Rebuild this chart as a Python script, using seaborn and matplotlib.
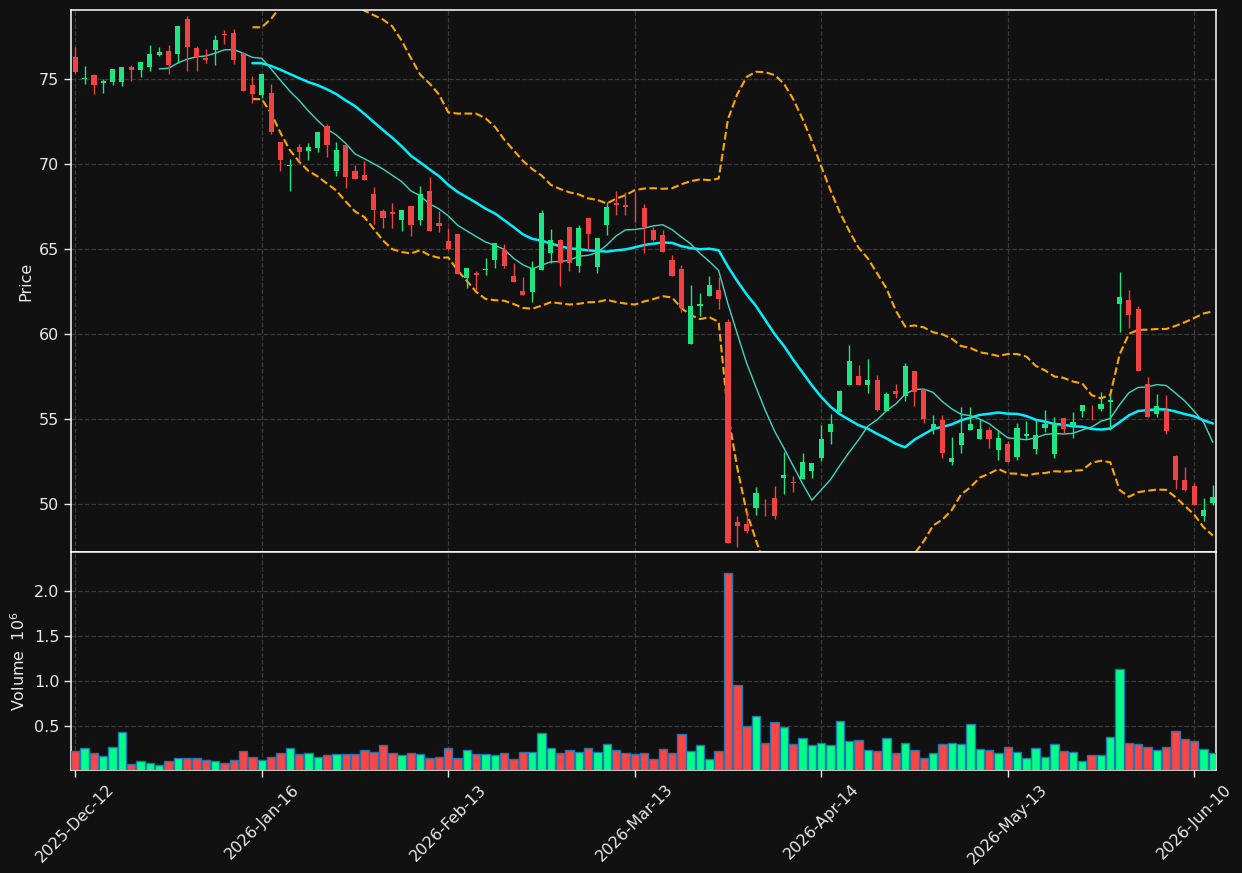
import numpy as np
import pandas as pd
import matplotlib
matplotlib.use("Agg")
from matplotlib import pyplot as plt
from matplotlib.ticker import MultipleLocator, FormatStrFormatter
import seaborn as sns

# OHLC values (one entry per trading session)
opens = [76.31, 75.00, 75.25, 74.74, 74.80, 74.80, 75.68, 75.55, 75.68, 76.43,
         76.66, 76.49, 78.55, 76.84, 76.23, 76.72, 77.63, 77.72, 76.53, 74.66,
         74.09, 74.19, 71.31, 69.88, 71.00, 70.78, 70.96, 72.25, 69.57, 71.13,
         69.61, 69.37, 68.26, 67.25, 67.19, 66.68, 67.55, 66.68, 68.43, 66.55,
         65.50, 65.90, 63.28, 63.57, 63.74, 64.33, 64.96, 63.43, 62.53, 62.45,
         63.74, 64.74, 65.55, 66.31, 63.98, 66.82, 63.92, 66.39, 67.72, 67.59,
         67.41, 67.43, 66.14, 65.84, 64.37, 63.84, 59.43, 61.63, 62.21, 62.61,
         60.72, 48.92, 48.84, 49.74, 49.78, 50.35, 51.51, 51.29, 51.47, 51.92,
         52.68, 54.21, 55.43, 56.98, 57.54, 57.03, 57.31, 55.45, 56.66, 56.33,
         57.84, 56.76, 54.41, 54.96, 52.50, 53.50, 54.37, 53.84, 54.37, 53.19,
         53.54, 52.75, 53.98, 53.25, 54.47, 52.96, 55.06, 54.62, 55.45, 55.61,
         55.61, 55.98, 61.74, 62.02, 61.49, 57.08, 55.29, 55.49, 52.80, 51.43,
         51.08, 49.31, 50.06]
highs = [76.88, 75.74, 75.30, 75.00, 75.61, 75.72, 75.84, 76.02, 77.02, 76.88,
         77.02, 78.14, 78.72, 76.96, 76.76, 77.59, 77.90, 77.94, 76.53, 75.19,
         75.31, 74.72, 71.31, 70.31, 71.17, 71.23, 71.90, 72.37, 71.29, 71.13,
         69.94, 70.19, 68.65, 67.37, 67.70, 67.31, 67.55, 68.72, 69.23, 67.21,
         66.22, 65.90, 63.90, 63.73, 64.47, 65.35, 65.27, 64.16, 63.35, 64.29,
         67.31, 66.18, 65.59, 66.31, 66.39, 66.82, 65.65, 67.74, 68.41, 68.37,
         68.37, 67.63, 66.29, 66.10, 64.65, 64.08, 62.88, 62.41, 63.43, 63.35,
         60.88, 49.31, 49.57, 51.00, 50.29, 51.08, 53.07, 51.66, 52.99, 52.41,
         54.65, 55.27, 56.72, 59.37, 58.19, 58.52, 57.60, 56.60, 57.07, 58.29,
         57.84, 56.76, 55.23, 55.23, 53.94, 55.70, 55.70, 55.00, 54.56, 54.37,
         53.68, 54.74, 54.86, 54.96, 55.51, 55.12, 55.06, 55.39, 55.84, 55.84,
         56.59, 56.43, 63.64, 62.60, 61.66, 57.47, 56.47, 56.41, 52.90, 52.17,
         51.23, 50.35, 51.12]
lows = [75.35, 74.72, 74.10, 74.17, 74.64, 74.59, 74.86, 75.15, 75.45, 76.33,
        75.29, 75.94, 75.45, 75.45, 75.94, 75.84, 77.04, 75.88, 74.31, 73.59,
        73.90, 71.78, 69.57, 68.39, 70.19, 70.21, 70.72, 70.39, 69.27, 68.62,
        69.15, 69.04, 66.49, 66.21, 66.21, 66.09, 65.78, 66.39, 66.09, 65.98,
        64.97, 63.55, 62.71, 62.61, 63.45, 63.88, 63.88, 63.04, 62.27, 61.88,
        63.74, 64.17, 62.80, 63.70, 63.65, 64.96, 63.59, 65.84, 66.99, 66.99,
        66.57, 64.76, 65.45, 64.80, 63.39, 61.27, 59.43, 61.08, 62.21, 61.47,
        47.70, 47.47, 48.29, 49.37, 49.27, 49.12, 50.60, 50.73, 51.47, 51.53,
        52.51, 53.52, 55.43, 56.98, 56.98, 56.52, 55.45, 55.45, 56.23, 56.09,
        55.74, 54.76, 54.11, 52.70, 52.31, 52.99, 54.37, 53.84, 53.29, 52.60,
        52.45, 52.60, 53.82, 52.94, 54.21, 52.68, 54.14, 53.88, 55.12, 54.96,
        55.45, 54.37, 60.15, 60.33, 57.80, 55.12, 55.15, 54.14, 50.88, 50.74,
        49.96, 48.98, 49.96]
closes = [75.39, 75.06, 74.63, 74.90, 75.61, 75.72, 75.55, 76.02, 76.49, 76.57,
          75.84, 78.14, 76.86, 76.29, 76.14, 77.31, 77.57, 76.14, 74.31, 74.15,
          75.31, 71.86, 70.21, 69.94, 70.72, 71.00, 71.90, 71.15, 70.84, 69.21,
          69.15, 69.04, 67.27, 66.80, 67.04, 67.31, 66.39, 68.26, 66.09, 66.33,
          64.98, 63.55, 63.90, 63.49, 63.84, 65.35, 64.02, 63.04, 62.27, 63.90,
          67.12, 65.55, 64.16, 64.16, 66.24, 65.86, 65.65, 67.49, 67.57, 67.45,
          67.39, 66.29, 65.55, 64.80, 63.39, 61.53, 61.66, 61.78, 62.90, 62.08,
          47.70, 48.68, 48.39, 50.65, 49.74, 49.27, 51.72, 51.21, 52.49, 52.41,
          53.84, 54.72, 56.66, 58.43, 57.03, 57.31, 55.54, 56.49, 56.45, 58.13,
          56.62, 55.01, 54.70, 53.00, 52.72, 54.17, 54.72, 54.43, 53.84, 53.90,
          52.45, 54.48, 54.13, 54.08, 54.72, 54.76, 54.43, 54.82, 55.84, 55.57,
          55.90, 56.13, 62.17, 61.15, 57.80, 55.12, 55.78, 54.27, 51.39, 50.84,
          49.96, 49.66, 50.41]
# volume in millions of shares
volumes = [0.23, 0.26, 0.20, 0.17, 0.27, 0.44, 0.087, 0.12, 0.098, 0.076,
           0.12, 0.15, 0.15, 0.15, 0.13, 0.12, 0.098, 0.13, 0.23, 0.16,
           0.13, 0.16, 0.20, 0.26, 0.19, 0.20, 0.16, 0.18, 0.19, 0.19,
           0.19, 0.24, 0.22, 0.29, 0.21, 0.18, 0.20, 0.19, 0.15, 0.16,
           0.26, 0.15, 0.24, 0.19, 0.19, 0.18, 0.21, 0.14, 0.22, 0.22,
           0.43, 0.26, 0.20, 0.24, 0.22, 0.26, 0.22, 0.30, 0.24, 0.21,
           0.19, 0.21, 0.14, 0.25, 0.21, 0.42, 0.23, 0.29, 0.14, 0.23,
           2.20, 0.96, 0.50, 0.62, 0.32, 0.55, 0.49, 0.31, 0.37, 0.29,
           0.32, 0.29, 0.56, 0.34, 0.35, 0.24, 0.23, 0.37, 0.20, 0.32,
           0.24, 0.15, 0.20, 0.31, 0.32, 0.30, 0.53, 0.25, 0.24, 0.20,
           0.27, 0.22, 0.15, 0.26, 0.16, 0.30, 0.23, 0.22, 0.12, 0.18,
           0.18, 0.38, 1.14, 0.32, 0.31, 0.27, 0.24, 0.27, 0.45, 0.36,
           0.34, 0.25, 0.21]
tick_labels = ['2025-Dec-12', '2026-Jan-16', '2026-Feb-13', '2026-Mar-13',
               '2026-Apr-14', '2026-May-13', '2026-Jun-10']

df = pd.DataFrame({'open': opens, 'high': highs, 'low': lows,
                   'close': closes, 'volume': volumes})
df['idx'] = np.arange(len(df))
df['up'] = df['close'] >= df['open']

# moving averages + bollinger bands (20, 2)
df['ma10'] = df['close'].rolling(10).mean()
df['ma20'] = df['close'].rolling(20).mean()
std20 = df['close'].rolling(20).std()
df['bb_upper'] = df['ma20'] + 2 * std20
df['bb_lower'] = df['ma20'] - 2 * std20

bg = '#111111'
fg = '#e8e8e8'
sns.set_theme(style='dark', rc={
    'figure.facecolor': bg, 'axes.facecolor': bg,
    'axes.edgecolor': 'white', 'axes.linewidth': 1.1,
    'text.color': fg, 'axes.labelcolor': fg,
    'xtick.color': fg, 'ytick.color': fg,
    'xtick.bottom': True, 'ytick.left': True,
})
plt.rcParams['font.family'] = ['DejaVu Sans']

fig = plt.figure(figsize=(12.42, 8.73), dpi=100)
ax_price = fig.add_axes([0.0574, 0.3677, 0.9216, 0.6208])
ax_vol = fig.add_axes([0.0574, 0.1180, 0.9216, 0.2497], sharex=ax_price)

candle_up, candle_dn = '#1de584', '#ef4343'
vol_up, vol_dn = '#00ff88', '#ff4444'
ccolors = np.where(df['up'], candle_up, candle_dn)
vcolors = np.where(df['up'], vol_up, vol_dn)

# candles
ax_price.vlines(df['idx'], df['low'], df['high'], colors=ccolors, lw=1.0, zorder=3)
body_lo = np.minimum(df['open'], df['close'])
body_h = np.maximum((df['close'] - df['open']).abs(), 0.04)
ax_price.bar(df['idx'], body_h, bottom=body_lo, width=0.55, color=ccolors,
             linewidth=0, zorder=4)

# moving averages and bands
sns.lineplot(data=df, x='idx', y='ma20', ax=ax_price, color='#00f0ff', lw=1.8, zorder=2)
sns.lineplot(data=df, x='idx', y='ma10', ax=ax_price, color='#3fd6c6', lw=1.0, zorder=2)
for col in ['bb_upper', 'bb_lower']:
    sns.lineplot(data=df, x='idx', y=col, ax=ax_price, color='#ffa500',
                 lw=1.5, linestyle='--', zorder=2)

# volume
ax_vol.bar(df['idx'], df['volume'], width=0.9, color=vcolors,
           edgecolor='#1f77b4', linewidth=1.0, zorder=3)

ax_price.set_ylim(47.18, 79.06)
ax_vol.set_ylim(0.017, 2.43)
ax_vol.set_xlim(-0.43, 122.33)

ax_price.yaxis.set_major_locator(MultipleLocator(5))
ax_vol.set_yticks([0.5, 1.0, 1.5, 2.0])
ax_vol.yaxis.set_major_formatter(FormatStrFormatter('%.1f'))
ax_vol.set_xticks(np.arange(0, len(df), 20))
ax_vol.set_xticklabels(tick_labels, rotation=45, ha='center')

for ax in (ax_price, ax_vol):
    ax.grid(True, linestyle='--', color='#3a3a3a', lw=0.9)
    ax.tick_params(labelsize=11.5, length=5, width=1.0, colors=fg)
    for spine in ax.spines.values():
        spine.set_color('white')
    ax.set_xlabel('')
ax_price.tick_params(labelbottom=False, bottom=False)

ax_price.set_ylabel('Price', fontsize=11.5)
ax_vol.set_ylabel('Volume  $10^{6}$', fontsize=11.5)

fig.savefig('out.png', dpi=100, facecolor=bg)
